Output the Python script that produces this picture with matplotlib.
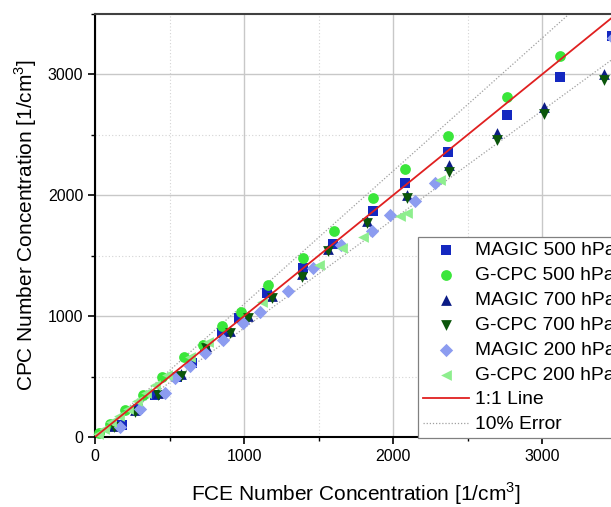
import matplotlib
matplotlib.use("Agg")
import matplotlib.pyplot as plt
import numpy as np
from matplotlib.ticker import MultipleLocator

plt.rcParams['font.family'] = ['Liberation Sans', 'DejaVu Sans']
plt.rcParams['mathtext.fontset'] = 'custom'
plt.rcParams['mathtext.rm'] = 'Liberation Sans'

# data (FCE x, CPC y)
magic500_x = [179, 290, 403, 548, 649, 738, 850, 968, 1152, 1394, 1600, 1868, 2081, 2367, 2767, 3121, 3470]
magic500_y = [99, 230, 348, 500, 610, 735, 859, 983, 1190, 1397, 1596, 1867, 2101, 2361, 2668, 2980, 3314]

gcpc500_x = [30, 100, 200, 320, 450, 600, 727, 850, 978, 1163, 1394, 1604, 1868, 2081, 2367, 2767, 3121]
gcpc500_y = [35, 110, 225, 350, 500, 660, 762, 920, 1038, 1254, 1480, 1701, 1978, 2218, 2488, 2814, 3151]

magic700_x = [130, 270, 420, 580, 743, 906, 1029, 1190, 1387, 1566, 1823, 2092, 2376, 2700, 3013, 3416]
magic700_y = [90, 220, 360, 520, 750, 875, 1000, 1165, 1345, 1555, 1790, 2000, 2248, 2516, 2731, 3007]

gcpc700_x = [130, 270, 420, 580, 743, 906, 1029, 1190, 1387, 1566, 1823, 2092, 2376, 2700, 3013, 3416]
gcpc700_y = [80, 210, 345, 505, 735, 859, 983, 1149, 1328, 1535, 1770, 1978, 2196, 2461, 2673, 2958]

magic200_x = [168, 300, 470, 537, 638, 738, 861, 996, 1107, 1297, 1465, 1650, 1857, 1980, 2148, 2282, 3477]
magic200_y = [85, 230, 362, 486, 588, 693, 804, 942, 1038, 1204, 1397, 1590, 1701, 1840, 1950, 2101, 3303]

gcpc200_x = [20, 60, 110, 160, 220, 280, 340, 400, 480, 638, 761, 1119, 1506, 1656, 1801, 2047, 2092, 2315]
gcpc200_y = [25, 70, 120, 175, 235, 300, 365, 430, 510, 665, 790, 1121, 1425, 1562, 1654, 1825, 1853, 2129]

series = [
    ("MAGIC 500 hPa", magic500_x, magic500_y, "s", "#1428c0"),
    ("G-CPC 500 hPa", gcpc500_x, gcpc500_y, "o", "#3ae63a"),
    ("MAGIC 700 hPa", magic700_x, magic700_y, "^", "#0c1c86"),
    ("G-CPC 700 hPa", gcpc700_x, gcpc700_y, "v", "#0b560b"),
    ("MAGIC 200 hPa", magic200_x, magic200_y, "D", "#8c9cf0"),
    ("G-CPC 200 hPa", gcpc200_x, gcpc200_y, "<", "#8eee8e"),
]

fig = plt.figure(figsize=(6.11, 5.07), dpi=100)
ax = fig.add_axes([95 / 611, 70 / 507, 521.5 / 611, 423 / 507])

for label, xs, ys, mk, col in series:
    ms = 46 if mk == "D" else 60
    ax.scatter(xs, ys, marker=mk, s=ms, color=col, label=label, zorder=3,
               linewidths=0, clip_on=False)

line = np.array([0, 3600])
ax.plot(line, line, color="#e02020", lw=1.3, label="1:1 Line", zorder=4)
ax.plot(line, 1.1 * line, color="#a0a0a0", lw=0.9, ls=(0, (1, 1.5)), label="10% Error", zorder=2)
ax.plot(line, 0.9 * line, color="#a0a0a0", lw=0.9, ls=(0, (1, 1.5)), zorder=2)

ax.set_xlim(0, 3500)
ax.set_ylim(0, 3500)
ax.xaxis.set_major_locator(MultipleLocator(1000))
ax.xaxis.set_minor_locator(MultipleLocator(500))
ax.yaxis.set_major_locator(MultipleLocator(1000))
ax.yaxis.set_minor_locator(MultipleLocator(500))

ax.grid(which="major", color="#c8c8c8", lw=1.0)
ax.grid(which="minor", color="#d4d4d4", lw=0.8, ls=(0, (1, 2)))
ax.set_axisbelow(True)

ax.tick_params(which="major", direction="out", length=5, width=1.2, labelsize=11.5, colors="black")
ax.tick_params(which="minor", direction="out", length=3, width=1.0)
ax.tick_params(top=False, right=False, which="both")

for side in ["left", "bottom"]:
    ax.spines[side].set_linewidth(1.5)
    ax.spines[side].set_color("black")
ax.spines["top"].set_linewidth(1.5)
ax.spines["top"].set_color("#404040")
ax.spines["right"].set_visible(False)

ax.set_xlabel("FCE Number Concentration [1/cm$^3$]", fontsize=15, labelpad=12)
ax.set_ylabel("CPC Number Concentration [1/cm$^3$]", fontsize=15, labelpad=6)

leg = ax.legend(loc="upper left", bbox_to_anchor=(418 / 611, 1 - 237 / 507),
                bbox_transform=fig.transFigure, fontsize=13.9, labelspacing=0.38,
                handlelength=2.4, handletextpad=0.3, borderpad=0.25, borderaxespad=0,
                fancybox=False, framealpha=1, edgecolor="#808080", scatterpoints=1)
leg.get_frame().set_linewidth(0.9)

fig.savefig("out.png", dpi=100)
